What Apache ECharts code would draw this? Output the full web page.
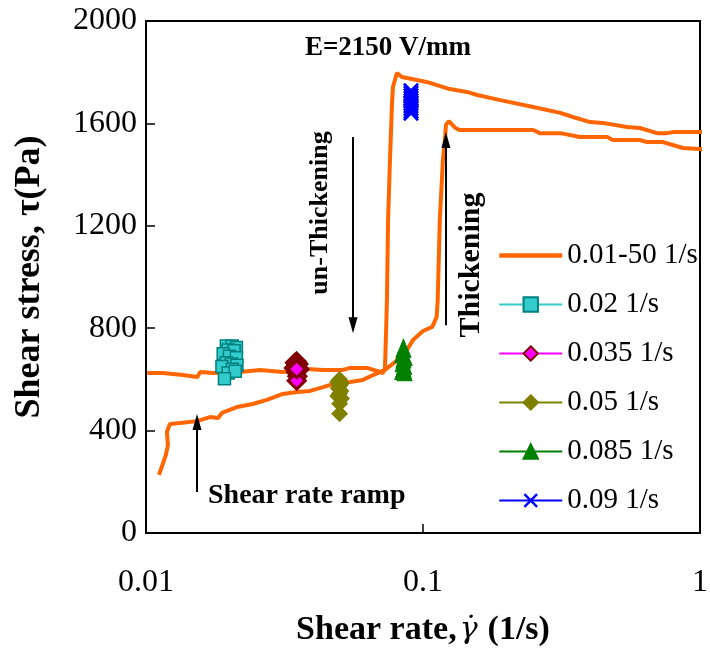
<!DOCTYPE html>
<html>
<head>
<meta charset="utf-8">
<script src="https://cdn.jsdelivr.net/npm/echarts@6/dist/echarts.min.js"></script>
<style>
  html, body { margin: 0; padding: 0; background: #fff; }
  #chart { width: 710px; height: 656px; }
</style>
</head>
<body>
<div id="chart"></div>
<script>
// shear rate ramp 0.01 -> 50 1/s (up branch), then back down
const rampUp = [
  [0.01114, 227], [0.0118, 305], [0.0120, 344], [0.0119, 395], [0.0122, 426], [0.0133, 430],
  [0.0153, 437], [0.0170, 453], [0.0182, 449], [0.0188, 469], [0.0213, 492], [0.0243, 504],
  [0.0273, 520], [0.0312, 543], [0.0351, 551], [0.0391, 555], [0.0436, 570], [0.0489, 586],
  [0.0545, 590], [0.0607, 598], [0.0660, 617], [0.0729, 637], [0.0793, 668], [0.0875, 715],
  [0.0920, 754], [0.100, 789], [0.108, 805], [0.112, 844], [0.113, 910], [0.115, 1223],
  [0.118, 1457], [0.120, 1535], [0.121, 1594], [0.124, 1609], [0.131, 1582], [0.136, 1574],
  [0.165, 1574], [0.250, 1574], [0.264, 1562], [0.313, 1562], [0.369, 1547], [0.462, 1547],
  [0.485, 1535], [0.607, 1535], [0.644, 1527], [0.735, 1527], [0.868, 1504], [1.0, 1500],
  [1.12, 1488]
]
const rampDown = [
  [1.12, 1562], [1.0, 1566], [0.800, 1566], [0.760, 1562], [0.700, 1562], [0.607, 1582],
  [0.545, 1586], [0.446, 1602], [0.401, 1605], [0.348, 1625], [0.313, 1641], [0.250, 1664],
  [0.190, 1691], [0.157, 1711], [0.144, 1723], [0.125, 1734], [0.103, 1762], [0.0840, 1781],
  [0.0805, 1797], [0.0779, 1742], [0.0773, 1680], [0.0760, 1457], [0.0748, 1223], [0.0741, 910],
  [0.0735, 773], [0.0729, 645], [0.0717, 625], [0.0700, 629], [0.0628, 645], [0.0545, 645],
  [0.0514, 637], [0.0436, 637], [0.0381, 641], [0.0312, 629], [0.0258, 637], [0.0218, 629],
  [0.0175, 625], [0.0157, 629], [0.0153, 609], [0.0136, 617], [0.0115, 625], [0.0101, 625]
]

// constant shear rate steps
const step002 = [
  [0.0195, 730], [0.0205, 730], [0.0212, 725], [0.0198, 715], [0.0208, 712], [0.0190, 700],
  [0.0200, 690], [0.0212, 685], [0.0195, 665], [0.0203, 660], [0.0213, 655], [0.0188, 650],
  [0.0205, 640], [0.0198, 625], [0.0210, 632], [0.0192, 603]
]
const step0035 = [
  [0.0350, 670], [0.0345, 665], [0.0355, 660], [0.0350, 652], [0.0342, 645], [0.0358, 640],
  [0.0348, 628], [0.0352, 612], [0.0350, 595], [0.0350, 640]
]
const step005 = [
  [0.0500, 600], [0.0492, 590], [0.0508, 585], [0.0500, 575], [0.0495, 565], [0.0505, 555],
  [0.0500, 545], [0.0492, 535], [0.0508, 525], [0.0500, 505], [0.0500, 466]
]
const step0085 = [
  [0.0850, 722], [0.0842, 700], [0.0858, 690], [0.0850, 680], [0.0845, 665], [0.0855, 655],
  [0.0850, 645], [0.0842, 635], [0.0858, 630]
]
const step009 = [
  [0.0905, 1728], [0.0905, 1718], [0.0905, 1708], [0.0905, 1698], [0.0905, 1688],
  [0.0905, 1678], [0.0905, 1668], [0.0905, 1658], [0.0905, 1648], [0.0905, 1640]
]

const xTickLabels = ['0.01', '0.1', '1']
const yTicks = { min: 0, max: 2000, interval: 400 }

// annotation arrows [from, to] in data space
const arrowUnThick = [[0.0559, 1547], [0.0559, 812]]
const arrowThick = [[0.121, 812], [0.121, 1535]]
const arrowRamp = [[0.01528, 160], [0.01528, 434]]

const serif = '"Liberation Serif", "Times New Roman", serif'
const xMark = 'path://M0,1.2L1.2,0L5,3.8L8.8,0L10,1.2L6.2,5L10,8.8L8.8,10L5,6.2L1.2,10L0,8.8L3.8,5Z'

const chart = echarts.init(document.getElementById('chart'))

const arrowPair = a => [{ coord: a[0] }, { coord: a[1] }]

const stepSeries = (name, data, symbol, size, itemStyle) => ({
  name,
  type: 'line',
  data,
  symbol,
  symbolSize: size,
  showSymbol: true,
  itemStyle,
  lineStyle: { opacity: 0 },
  z: 3,
})

const centered = { align: 'center', verticalAlign: 'middle', textAlign: 'center', textVerticalAlign: 'middle' }

chart.setOption({
  animation: false,
  grid: {
    left: 146, right: 10, top: 21, bottom: 123,
    show: true, borderColor: '#000', borderWidth: 2,
    outerBoundsMode: 'none',
  },
  legend: {
    orient: 'vertical',
    left: 492,
    top: 236,
    itemWidth: 63,
    itemHeight: 18,
    itemGap: 20,
    textStyle: { fontFamily: serif, fontSize: 29, color: '#000' },
    data: [
      { name: '0.01-50 1/s', itemStyle: { opacity: 0 }, lineStyle: { width: 4.5 } },
      { name: '0.02 1/s', lineStyle: { color: '#33cccc', width: 2, opacity: 1 } },
      { name: '0.035 1/s', lineStyle: { color: '#ff00ff', width: 2, opacity: 1 } },
      { name: '0.05 1/s', lineStyle: { color: '#808000', width: 2, opacity: 1 } },
      { name: '0.085 1/s', lineStyle: { color: '#008000', width: 2, opacity: 1 } },
      { name: '0.09 1/s', lineStyle: { color: '#0000ff', width: 2, opacity: 1 } },
    ],
  },
  xAxis: {
    type: 'log',
    logBase: 10,
    min: 0.01,
    max: 1,
    axisLine: { lineStyle: { color: '#000', width: 2 } },
    axisTick: { inside: true, length: 9, lineStyle: { color: '#000', width: 1.5 } },
    splitLine: { show: false },
    minorTick: { show: false },
    axisLabel: {
      margin: 34,
      fontFamily: serif,
      fontSize: 32,
      color: '#000',
      formatter: v => xTickLabels[Math.round(Math.log10(v)) + 2],
    },
    name: '{b|Shear rate,}{g|γ̇}{b|(1/s)}',
    nameLocation: 'middle',
    nameGap: 80,
    nameTextStyle: {
      rich: {
        b: { fontFamily: serif, fontWeight: 'bold', fontSize: 34, color: '#000' },
        g: { fontFamily: '"DejaVu Serif", serif', fontStyle: 'italic', fontSize: 30, color: '#000', padding: [0, 10, 0, 3] },
      },
    },
  },
  yAxis: {
    type: 'value',
    min: yTicks.min,
    max: yTicks.max,
    interval: yTicks.interval,
    axisLine: { show: true, lineStyle: { color: '#000', width: 2 } },
    axisTick: { show: true, inside: true, length: 9, lineStyle: { color: '#000', width: 1.5 } },
    splitLine: { show: false },
    axisLabel: { margin: 9, fontFamily: serif, fontSize: 32, color: '#000', formatter: v => String(v) },
    name: 'Shear stress, τ(Pa)',
    nameLocation: 'middle',
    nameGap: 98,
    nameTextStyle: { fontFamily: serif, fontWeight: 'bold', fontSize: 36, color: '#000' },
  },
  series: [
    {
      name: '0.01-50 1/s',
      type: 'line',
      data: rampUp.concat(rampDown),
      symbol: 'none',
      showSymbol: false,
      clip: false,
      lineStyle: { color: '#ff6600', width: 4 },
      itemStyle: { color: '#ff6600' },
      z: 2,
      markLine: {
        silent: true,
        symbol: ['none', 'triangle'],
        symbolSize: [9, 16],
        label: { show: false },
        lineStyle: { color: '#000', width: 2, type: 'solid' },
        data: [arrowPair(arrowUnThick), arrowPair(arrowThick), arrowPair(arrowRamp)],
      },
    },
    stepSeries('0.02 1/s', step002, 'rect', 12,
      { color: '#33cccc', borderColor: '#008080', borderWidth: 1.5 }),
    stepSeries('0.035 1/s', step0035, 'diamond', 17,
      { color: '#ff00ff', borderColor: '#800000', borderWidth: 3 }),
    stepSeries('0.05 1/s', step005, 'diamond', 16,
      { color: '#808000', borderColor: '#808000', borderWidth: 1 }),
    stepSeries('0.085 1/s', step0085, 'triangle', [15, 18],
      { color: '#008000', borderColor: '#008000', borderWidth: 1 }),
    stepSeries('0.09 1/s', step009, xMark, 16,
      { color: '#0000ff' }),
  ],
  graphic: [
    {
      type: 'text', x: 388, y: 48,
      style: Object.assign({ text: 'E=2150 V/mm', font: 'bold 27px ' + serif, fill: '#000' }, centered),
    },
    {
      type: 'text', x: 320, y: 213, rotation: Math.PI / 2,
      style: Object.assign({ text: 'un-Thickening', font: 'bold 26px ' + serif, fill: '#000' }, centered),
    },
    {
      type: 'text', x: 471, y: 265, rotation: Math.PI / 2,
      style: Object.assign({ text: 'Thickening', font: 'bold 30px ' + serif, fill: '#000' }, centered),
    },
    {
      type: 'text', x: 208, y: 496,
      style: { text: 'Shear rate ramp', font: 'bold 28px ' + serif, fill: '#000',
        align: 'left', verticalAlign: 'middle', textAlign: 'left', textVerticalAlign: 'middle' },
    },
  ],
})
</script>
</body>
</html>
